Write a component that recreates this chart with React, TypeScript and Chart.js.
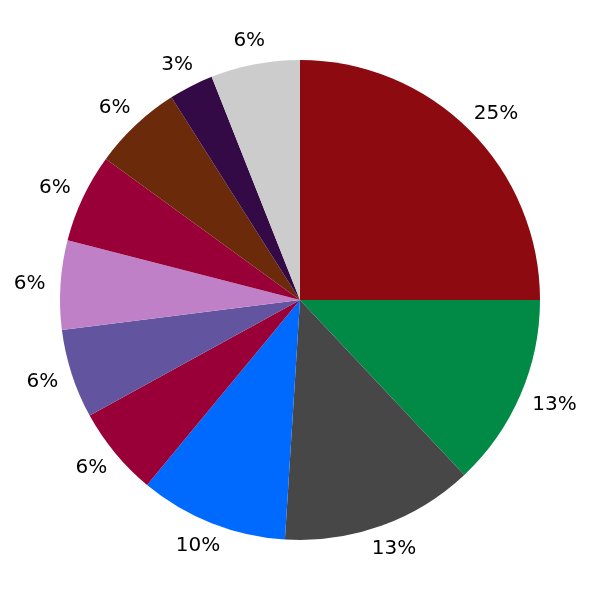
import React, { useEffect, useRef } from "react";
import { Chart, registerables } from "chart.js";

Chart.register(...registerables);

const categories = ["A", "B", "C", "D", "E", "F", "G", "H", "I", "J", "K"];
const values = [25, 13, 13, 10, 6, 6, 6, 6, 6, 3, 6];
const labels = ["25%", "13%", "13%", "10%", "6%", "6%", "6%", "6%", "6%", "3%", "6%"];
const colors = [
  "#8C0A10",
  "#008A45",
  "#474747",
  "#006AFF",
  "#990038",
  "#62549E",
  "#C080C8",
  "#990038",
  "#6B2A0A",
  "#330A45",
  "#CCCCCC",
];

const outsideLabels = {
  id: "outsideLabels",
  afterDatasetsDraw(chart: any) {
    const ctx = chart.ctx;
    const meta = chart.getDatasetMeta(0);
    ctx.save();
    ctx.font = "20px 'DejaVu Sans'";
    ctx.fillStyle = "#000";
    ctx.textAlign = "center";
    ctx.textBaseline = "middle";
    meta.data.forEach((arc: any, i: number) => {
      const p = arc.getProps(["x", "y", "startAngle", "endAngle", "outerRadius"], true);
      const mid = (p.startAngle + p.endAngle) / 2;
      const c = Math.cos(mid);
      const s = Math.sin(mid);
      const txt = labels[i];
      const w = ctx.measureText(txt).width;
      const h = 18;
      const r = p.outerRadius + 15;
      const x = p.x + c * r + (c * w) / 2;
      const y = p.y + s * r + (s * h) / 2;
      ctx.fillText(txt, x, y);
    });
    ctx.restore();
  },
};

export default function App() {
  const ref = useRef<HTMLCanvasElement | null>(null);
  useEffect(() => {
    document.body.style.margin = "0";
    if (!ref.current) return;
    const chart = new Chart(ref.current, {
      type: "pie",
      data: {
        labels: categories,
        datasets: [
          {
            data: values,
            backgroundColor: colors,
            borderWidth: 0,
          },
        ],
      },
      options: {
        animation: false,
        responsive: false,
        maintainAspectRatio: false,
        layout: { padding: 60 },
        plugins: {
          legend: { display: false },
          tooltip: { enabled: false },
        },
      },
      plugins: [outsideLabels],
    });
    return () => chart.destroy();
  }, []);
  return (
    <div style={{ width: 600, height: 600 }}>
      <canvas ref={ref} width={600} height={600} style={{ display: "block" }} />
    </div>
  );
}
